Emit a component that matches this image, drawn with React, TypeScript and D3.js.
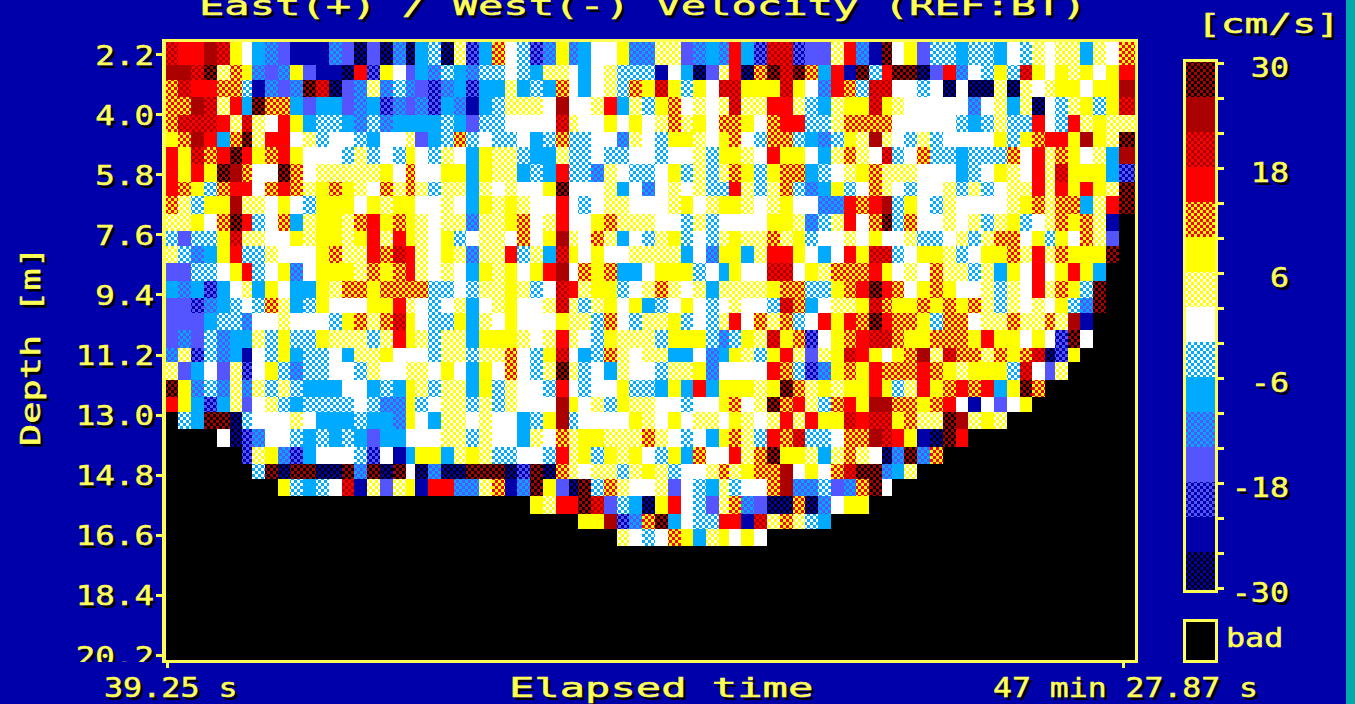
import React from "react";
import * as d3 from "d3";

// ---- data ----
const title = "East(+) / West(-) Velocity (REF:BT)";
const depthTicks = [2.2, 4.0, 5.8, 7.6, 9.4, 11.2, 13.0, 14.8, 16.6, 18.4, 20.2];
const timeTicks = [39.25, 2847.87];
const timeTickLabels = ["39.25 s", "47 min 27.87 s"];
const legendEdges = [30, 26, 22, 18, 14, 10, 6, 2, -2, -6, -10, -14, -18, -22, -26, -30];
const legendLabels = [30, 18, 6, -6, -18, -30];
const firstEnsembleStart = 34.84;
const ensembleSeconds = [
  35.25, 38.19, 38.19, 38.19, 38.19, 35.25, 29.38, 38.19, 38.19, 35.25, 38.19, 38.19, 38.19, 38.19, 35.25, 38.19,
  38.19, 38.19, 38.19, 26.44, 38.19, 38.19, 38.19, 35.25, 38.19, 38.19, 38.19, 35.25, 38.19, 38.19, 38.19, 38.19,
  26.44, 38.19, 38.19, 38.19, 35.25, 38.19, 38.19, 38.19, 38.19, 35.25, 38.19, 38.19, 29.38, 35.25, 38.19, 38.19,
  38.19, 38.19, 35.25, 38.19, 38.19, 38.19, 35.25, 38.19, 38.19, 29.38, 35.25, 38.19, 38.19, 38.19, 38.19, 35.25,
  38.19, 38.19, 38.19, 38.19, 35.25, 38.19, 29.38, 38.19, 35.25, 38.19, 38.19, 38.19, 47,
];
const depthBinEdges = [
  1.84, 2.53, 2.98, 3.49, 4.03, 4.54, 4.99, 5.49, 6.03, 6.45, 6.99, 7.5, 7.95, 8.46, 9.0, 9.51, 9.96, 10.47, 11.01,
  11.42, 11.96, 12.47, 12.92, 13.43, 13.97, 14.48, 14.93, 15.44, 15.98, 16.43, 16.94,
];
// one letter per ensemble: a..o = colour band from the top of the scale (30) to the bottom (-30), x = bad
const bandLetters = "abcdefghijklmno";
const velocityRows = [
  "cddbcfhjklnnnklolokojiogmj ehimkfkjhhfkkggl kjkdjmccm llgdknahfliijiijhighggjghe",
  "bbcagefklkflnnodmfhljkijki ihijgghjhgiiinhj olgdoeaca ejdnaidaaoldkhificfhfgfhfd",
  "ecddeeinklkacolkgkiklmkjmj jgjijehjhgiefcfi fhccfffcf hkdeicchhihohoogoghgffhffb",
  "eebcgdjaeejljjlkjmklkmjknj iggghbhhgdjgifeh ghgcggddg ijgffcfghhhhhkhgjgohigfifc",
  "ecccdgcghdfjiijkikjjjjijli ihhhhcghhfhfhgeg fheefhedd iigeeeehhhhhijigiidhidgfgg",
  "febdjeagddhgihhijhhgljieih iihjieiihhkghiff ghfehieei jkifgbghigihhhhfifeddfbfga",
  "dfcedadfedfhhhigihifhighjf ggijjgiihiihhihh giffghdff hjgeghciheiijiiiehdgefhgjb",
  "dfdfabehhaehgggggfhehhffjf ggjijdiikghiihfi gigefifee jihgfeggghhhjihfghdgcfffjm",
  "defieddhedegfefghegegiggjg hghhfahhhgjhkhgh giidgigei kjfiheghihhgigihggdgdfdfga",
  "egiffbgghfhifffhfgffhhghjf gfghhdhihgghhhgf hgffghgfh hkkdedbifhighhhhgfegeejgda",
  "ggfheadihejgffgedfefghggkg gfehgdhhfeggghhi gihhhhffg kigdheaiehhghgigfihgefegnx",
  "iliifcgghhfgffgfdgdfghfihg ghehfbghegjhigfi higfggegf ihhghfhhgiihgigeehfifheglx",
  "gikjfdiighhhfeggdecdghfgkg gdigjcfhfhhggggj hkffjgddf hjhdfccihffgihffegdgefffax",
  "lliihfdihfkhfffgefedghghjf gfhfdbhefejjhfff ihjfhhcch fgeeedfhgheggigjfhdhfdfjxx",
  "jkjmjhgjfhjjfgeefeeeeiihig gfgihcdgffihgegh gjggggfee iifedadehfefhhgighdgefiaxx",
  "llmkjihiegjifhhhffdghihgjh gfhhgcgigfhfjihf hihghhice jhggfceffefefegighghfikaxx",
  "llljiikhhghhhifegecfhiifjg hfhhhfggiehiggfi higdhegei hdfdeadeefieehggeggegbnxxx",
  "lklikjjgifiifgggigdfgiggjf ffghgdghifgggiff fikifgcfe mhfedcceffeeefdffhfhmahxxx",
  "kgmikjnhifjiihjggfhhhiggig gehifchjieghggjj hkjfgifdg lgfcdfhfebgceegefecomfxxxx",
  "gljhlgmhfikiihhighhgghfhjf hehigagihjghhigg fkhhhhdei mkfefdeeedefgfffichlgxxxxx",
  "afkikgkgigijjjhhjijfgiggjf ighhidhihhfiijfj djfffgfae gfgffdfigdfededjfaexxxxxxx",
  "dfjmjglhgijiiiihikkfihggig ighhhbfhgifgghhi hhfehgaed giedfbbeefedhnhlhfxxxxxxxx",
  "xijaaoihhhghjjjijjkfhjgghg hhjifbihhhhfghfh gghfghgdg dffcdccfeggabgfgxxxxxxxxxx",
  "xxxxhomkhhijijijljjhhhggig hhjghegffgggeghi hjfegidec iiheebcdfnoadxxxxxxxxxxxxx",
  "xxxxxxmgfkmjhhhimhnjffjgfg iihhidgfifgfhifj ehhdgeaff gjgeghokakexxxxxxxxxxxxxxx",
  "xxxxxxxiaoaaooakaoahokooaa aomaoeghggigfgih hgegfeebh fhecaakjgxxxxxxxxxxxxxxxxx",
  "xxxxxxxxxfijihcnglgfnddkkg enkafloaieghhglh ijgihhebk kilkeahxxxxxxxxxxxxxxxxxxx",
  "xxxxxxxxxxxxxxxxxxxxxxxxxx xxxfgddaclijofdh ilgeklooe okhffxxxxxxxxxxxxxxxxxxxxx",
  "xxxxxxxxxxxxxxxxxxxxxxxxxx xxxxxxxffbmkeajh iiddncgeg ijxxxxxxxxxxxxxxxxxxxxxxxx",
  "xxxxxxxxxxxxxxxxxxxxxxxxxx xxxxxxxxxxghihef jgfhfhxxx xxxxxxxxxxxxxxxxxxxxxxxxxx",
];

// ---- colours ----
const BG = "#0000AA";
const FRAME = "#FFFF55";
const bandFills: string[][] = [
  ["#000000", "#AA0000"],
  ["#AA0000"],
  ["#AA0000", "#FF0000"],
  ["#FF0000"],
  ["#FF0000", "#FFFF00"],
  ["#FFFF00"],
  ["#FFFF00", "#FFFFFF"],
  ["#FFFFFF"],
  ["#FFFFFF", "#00AAFF"],
  ["#00AAFF"],
  ["#00AAFF", "#5555FF"],
  ["#5555FF"],
  ["#5555FF", "#0000AA"],
  ["#0000AA"],
  ["#0000AA", "#000000"],
];
const fillOf = (i: number) => (bandFills[i].length === 1 ? bandFills[i][0] : `url(#band${i})`);

// ---- scales ----
const plot = { left: 166, right: 1135, top: 42, bottom: 660 };
const xTime = d3.scaleLinear().domain([39.25, 2847.87]).range([167.5, 1123.5]);
const yDepth = d3.scaleLinear().domain([2.2, 20.2]).range([54, 655]);
const yLegend = d3.scaleLinear().domain([30, -30]).range([62, 587]);
const bandMid = (i: number) => (legendEdges[i] + legendEdges[i + 1]) / 2;
const colourBand = d3
  .scaleQuantize<number>()
  .domain([-30, 30])
  .range(d3.range(14, -1, -1));

const columnEdges = [firstEnsembleStart, ...Array.from(d3.cumsum(ensembleSeconds), (s) => firstEnsembleStart + s)].map(
  (t) => Math.round(xTime(t))
);
const rowEdges = depthBinEdges.map((d) => Math.round(yDepth(d)));

type Cell = { key: string; x: number; y: number; w: number; h: number; value: number };
const cells: Cell[] = [];
velocityRows.forEach((row, r) => {
  Array.from(row.replace(/ /g, "")).forEach((ch, c) => {
    const b = bandLetters.indexOf(ch);
    if (b < 0 || c >= ensembleSeconds.length) return;
    cells.push({
      key: `${r}-${c}`,
      x: columnEdges[c],
      y: rowEdges[r],
      w: columnEdges[c + 1] - columnEdges[c],
      h: rowEdges[r + 1] - rowEdges[r],
      value: bandMid(b),
    });
  });
});

// ---- text ----
const FONT = "'DejaVu Sans Mono', monospace";
function PixelText(props: {
  x: number;
  y: number;
  text: string;
  sx?: number;
  anchor?: string;
  rotate?: number;
  shadow?: boolean;
  clip?: string;
}) {
  const { x, y, text, sx = 1.25, anchor = "start", rotate = 0, shadow = true, clip } = props;
  const tf = (dx: number, dy: number) => `translate(${x + dx},${y + dy}) rotate(${rotate}) scale(${sx},1)`;
  const common = { fontFamily: FONT, fontSize: 26, fontWeight: 400, textAnchor: anchor, style: { whiteSpace: "pre" as const } };
  return (
    <g clipPath={clip} shapeRendering="auto">
      {shadow && (
        <text {...common} transform={tf(3, 3)} fill="#000000">
          {text}
        </text>
      )}
      <text {...common} transform={tf(0, 0)} fill={FRAME} stroke={FRAME} strokeWidth={0.5}>
        {text}
      </text>
    </g>
  );
}

export default function App() {
  return (
    <svg
      width={1355}
      height={704}
      viewBox="0 0 1355 704"
      style={{ position: "absolute", left: 0, top: 0, display: "block" }}
      shapeRendering="crispEdges"
    >
      <defs>
        {bandFills.map((f, i) =>
          f.length === 2 ? (
            <pattern key={i} id={`band${i}`} patternUnits="userSpaceOnUse" x={0} y={0} width={6} height={6}>
              <rect width={6} height={6} fill={f[0]} />
              <rect width={3} height={3} fill={f[1]} />
              <rect x={3} y={3} width={3} height={3} fill={f[1]} />
            </pattern>
          ) : null
        )}
        <clipPath id="axisClip">
          <rect x={0} y={0} width={162} height={662} />
        </clipPath>
      </defs>

      <rect width={1355} height={704} fill={BG} />
      <rect x={1346} y={0} width={9} height={704} fill="#00AAAA" />

      {/* plot */}
      <rect x={plot.left} y={plot.top} width={plot.right - plot.left} height={plot.bottom - plot.top} fill="#000000" />
      {cells.map((c) => (
        <rect key={c.key} x={c.x} y={c.y} width={c.w} height={c.h} fill={fillOf(colourBand(c.value))} />
      ))}
      {/* frame */}
      <rect x={162} y={39} width={976} height={3} fill={FRAME} />
      <rect x={162} y={660} width={976} height={3} fill={FRAME} />
      <rect x={162} y={39} width={4} height={624} fill={FRAME} />
      <rect x={1135} y={39} width={3} height={624} fill={FRAME} />

      {/* y axis */}
      {depthTicks.map((d) => (
        <g key={d}>
          <rect x={156} y={yDepth(d) - 1} width={6} height={3} fill={FRAME} />
          <PixelText
            x={154}
            y={yDepth(d) + 10.5}
            text={d.toFixed(1)}
            anchor="end"
            clip={d > 20 ? "url(#axisClip)" : undefined}
          />
        </g>
      ))}
      <PixelText x={40} y={446} text="Depth [m]" sx={1.42} rotate={-90} />

      {/* x axis */}
      {timeTicks.map((t) => (
        <rect key={t} x={xTime(t) - 1.5} y={663} width={3} height={5} fill={FRAME} />
      ))}
      <PixelText x={104} y={697} text={timeTickLabels[0]} sx={1.22} />
      <PixelText x={993} y={697} text={timeTickLabels[1]} sx={1.21} />
      <PixelText x={509} y={697} text="Elapsed time" sx={1.62} />
      <PixelText x={199} y={15} text={title} sx={1.62} />

      {/* colour bar */}
      <rect x={1183} y={59} width={35} height={534} fill={FRAME} />
      {bandFills.map((_, i) => {
        const top = yLegend(legendEdges[i]);
        const bottom = i === bandFills.length - 1 ? 590 : yLegend(legendEdges[i + 1]);
        return <rect key={i} x={1186} y={top} width={29} height={bottom - top} fill={fillOf(i)} />;
      })}
      {legendEdges.map((v) => (
        <rect key={v} x={1218} y={yLegend(v)} width={6} height={3} fill={FRAME} />
      ))}
      {legendLabels.map((v) => (
        <PixelText key={v} x={1289} y={yLegend(v) + 15} text={String(v)} anchor="end" sx={1.22} />
      ))}
      <PixelText x={1197} y={33} text="[cm/s]" sx={1.52} />

      {/* bad */}
      <rect x={1183} y={619} width={35} height={44} fill={FRAME} />
      <rect x={1186} y={622} width={29} height={38} fill="#000000" />
      <PixelText x={1226} y={647} text="bad" sx={1.22} shadow={false} />
    </svg>
  );
}
